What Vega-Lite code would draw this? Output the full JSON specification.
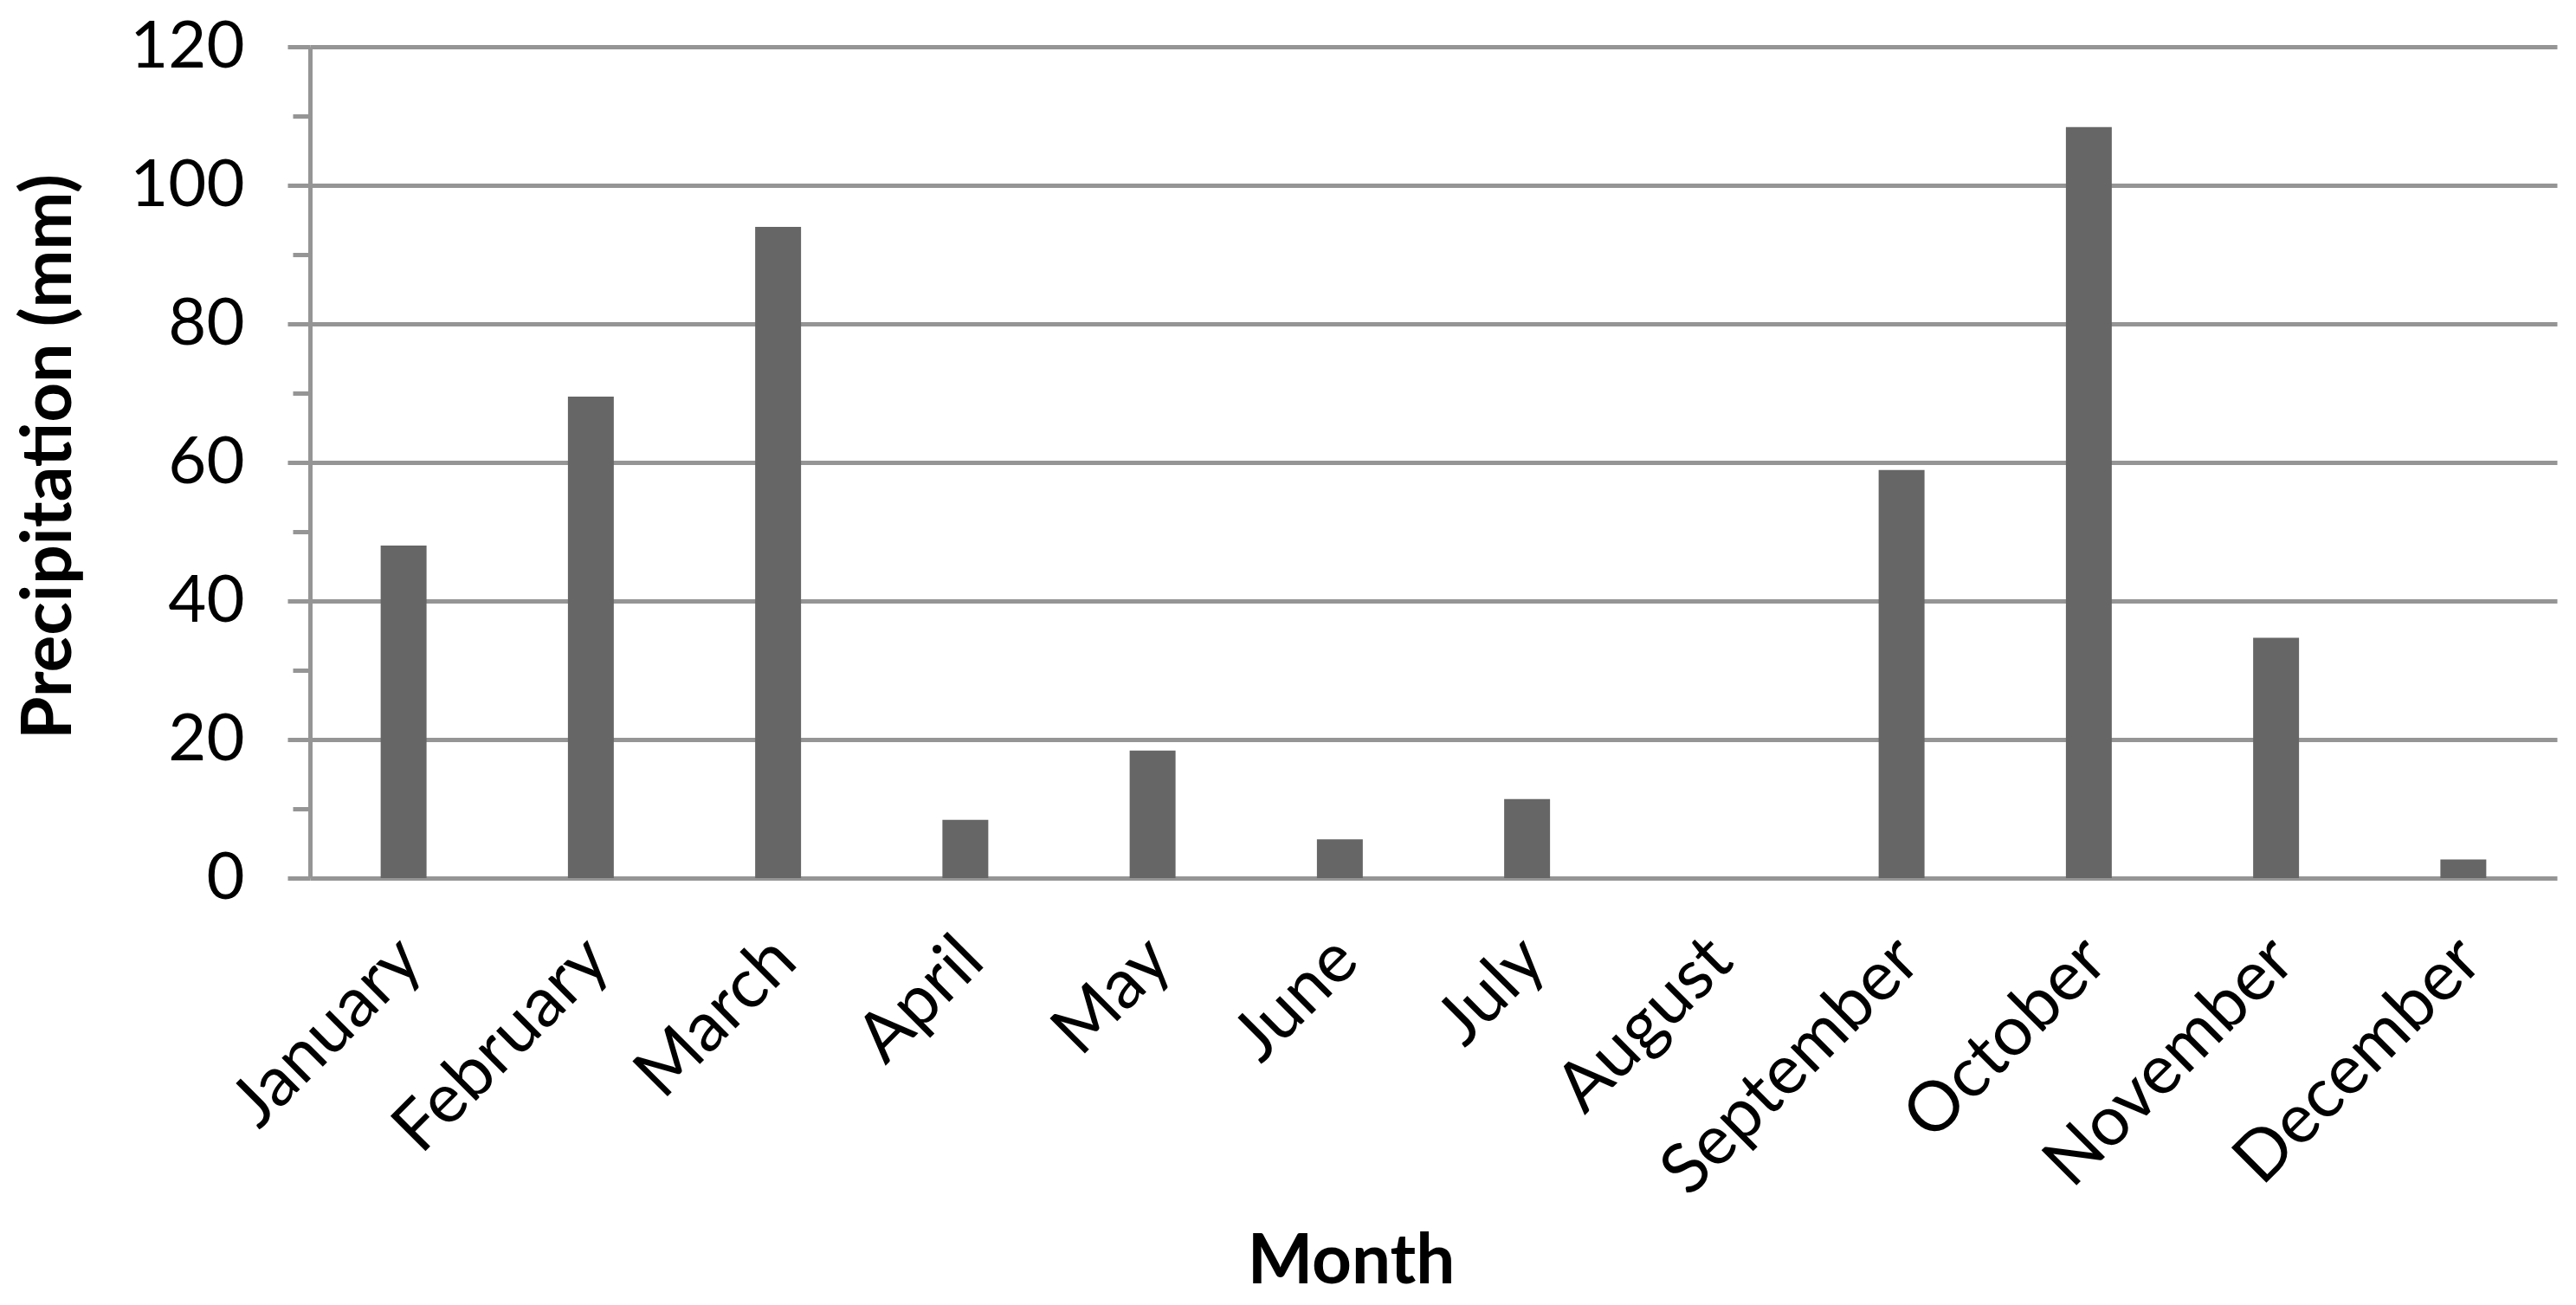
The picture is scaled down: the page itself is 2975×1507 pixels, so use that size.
{
  "$schema": "https://vega.github.io/schema/vega-lite/v6.json",
  "width": 2595,
  "height": 960,
  "autosize": {"type": "none"},
  "padding": {"left": 358, "top": 54, "right": 22, "bottom": 493},
  "background": "white",
  "config": {"view": {"stroke": null}, "font": "Lato"},
  "data": {
    "values": [
      {"Month": "January", "Precipitation": 48},
      {"Month": "February", "Precipitation": 69.5},
      {"Month": "March", "Precipitation": 94},
      {"Month": "April", "Precipitation": 8.4},
      {"Month": "May", "Precipitation": 18.4},
      {"Month": "June", "Precipitation": 5.6},
      {"Month": "July", "Precipitation": 11.4},
      {"Month": "August", "Precipitation": 0},
      {"Month": "September", "Precipitation": 58.9},
      {"Month": "October", "Precipitation": 108.4},
      {"Month": "November", "Precipitation": 34.7},
      {"Month": "December", "Precipitation": 2.7}
    ]
  },
  "mark": {"type": "bar", "color": "#666666", "width": {"band": 0.245}},
  "encoding": {
    "x": {
      "field": "Month",
      "type": "nominal",
      "sort": null,
      "scale": {"paddingInner": 0, "paddingOuter": 0},
      "axis": {
        "title": "Month",
        "labelAngle": -45,
        "labelAlign": "right",
        "labelBaseline": "middle",
        "labelFontSize": 80,
        "labelColor": "#000000",
        "labelPadding": 82,
        "labelLimit": 0,
        "labelOffset": 8,
        "ticks": false,
        "domain": false,
        "grid": false,
        "titleFontSize": 80,
        "titleFontWeight": "bold",
        "titleColor": "#000000",
        "titleX": 1202,
        "titleY": 443,
        "titleAlign": "center",
        "titleBaseline": "middle"
      }
    },
    "y": {
      "field": "Precipitation",
      "type": "quantitative",
      "scale": {"domain": [0, 120], "nice": false},
      "axis": {
        "values": [0, 10, 20, 30, 40, 50, 60, 70, 80, 90, 100, 110, 120],
        "labelExpr": "datum.value % 20 === 0 ? datum.label : ''",
        "grid": true,
        "gridColor": "#959595",
        "gridWidth": 5,
        "gridOpacity": {"condition": {"test": "datum.value % 20 === 0", "value": 1}, "value": 0},
        "tickSize": {"condition": {"test": "datum.value % 20 === 0", "value": 26}, "value": 20},
        "tickColor": "#959595",
        "tickWidth": 5,
        "domainColor": "#959595",
        "domainWidth": 5,
        "labelFontSize": 76,
        "labelColor": "#000000",
        "labelPadding": 50,
        "title": "Precipitation (mm)",
        "titleFontSize": 80,
        "titleFontWeight": "bold",
        "titleColor": "#000000",
        "titleX": -301,
        "titleY": 473,
        "titleAlign": "center",
        "titleBaseline": "middle",
        "titleAngle": -90
      }
    }
  }
}
